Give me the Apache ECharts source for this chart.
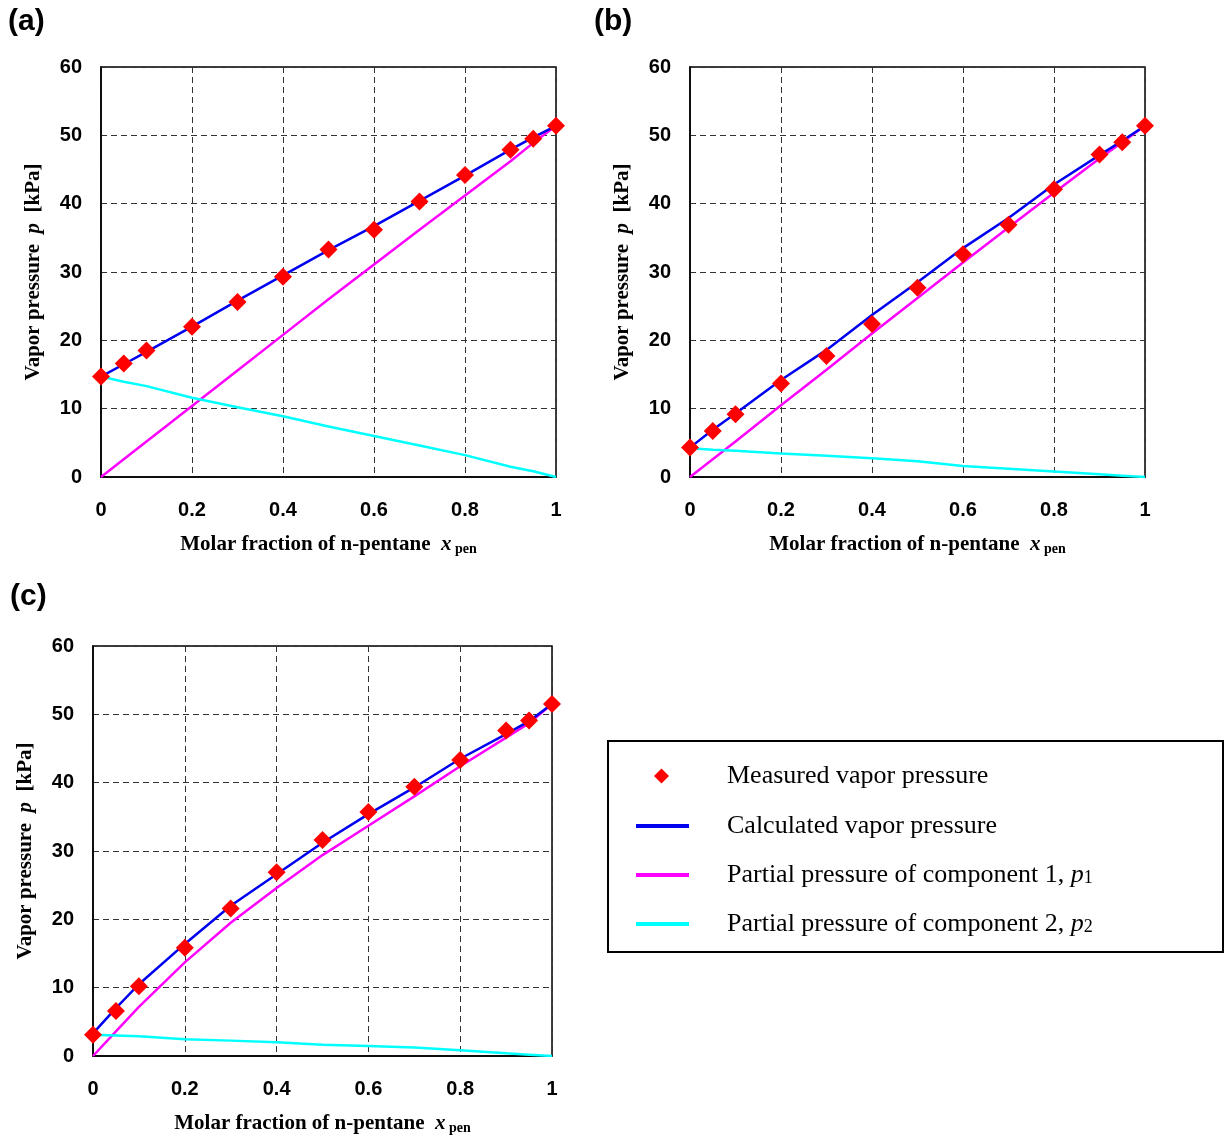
<!DOCTYPE html>
<html>
<head>
<meta charset="utf-8">
<script src="https://cdn.jsdelivr.net/npm/echarts@6/dist/echarts.min.js"></script>
<style>
html,body{margin:0;padding:0;background:#fff;}
#chart{width:1226px;height:1139px;}
</style>
</head>
<body>
<div id="chart"></div>
<script>
// Molar fraction of n-pentane (shared x values)
const xValues = [0, 0.05, 0.1, 0.2, 0.3, 0.4, 0.5, 0.6, 0.7, 0.8, 0.9, 0.95, 1];
const xTicks = [0, 0.2, 0.4, 0.6, 0.8, 1];
const yTicks = [0, 10, 20, 30, 40, 50, 60];

// Panel (a)
const measuredA = [14.7, 16.6, 18.5, 22.0, 25.6, 29.3, 33.3, 36.2, 40.3, 44.2, 47.9, 49.5, 51.4];
const calcA     = [14.7, 16.5, 18.3, 22.0, 25.8, 29.5, 33.2, 36.7, 40.4, 44.1, 47.9, 49.7, 51.4];
const p1A       = [0, 2.6, 5.2, 10.4, 15.6, 20.8, 26.0, 31.1, 36.2, 41.2, 46.2, 48.9, 51.4];
const p2A       = [14.7, 13.95, 13.3, 11.6, 10.2, 8.9, 7.4, 6.0, 4.6, 3.2, 1.5, 0.85, 0];

// Panel (b)
const measuredB = [4.3, 6.75, 9.2, 13.7, 17.7, 22.4, 27.7, 32.6, 36.9, 42.1, 47.2, 49.0, 51.4];
const calcB     = [4.3, 6.9, 9.3, 14.2, 18.6, 23.7, 28.5, 33.5, 37.9, 42.8, 47.1, 49.2, 51.4];
const p1B       = [0, 2.6, 5.2, 10.5, 15.7, 21.0, 26.2, 31.4, 36.5, 41.6, 46.6, 49.0, 51.4];
const p2B       = [4.2, 4.0, 3.85, 3.45, 3.1, 2.75, 2.3, 1.6, 1.2, 0.8, 0.4, 0.2, 0];

// Panel (c)
const measuredC = [3.1, 6.6, 10.2, 15.85, 21.6, 26.9, 31.6, 35.7, 39.4, 43.3, 47.65, 49.1, 51.5];
const calcC     = [3.3, 7.0, 10.5, 16.4, 22.0, 26.6, 31.2, 35.4, 39.3, 43.5, 47.1, 49.0, 51.5];
const p1C       = [0, 3.6, 7.2, 13.7, 19.5, 24.6, 29.4, 33.7, 38.0, 42.4, 46.6, 48.7, 51.5];
const p2C       = [3.1, 3.0, 2.9, 2.45, 2.25, 2.0, 1.65, 1.45, 1.25, 0.85, 0.4, 0.2, 0];

const panelLabels = ['(a)', '(b)', '(c)'];
const seriesNames = ['Measured vapor pressure', 'Calculated vapor pressure',
  'Partial pressure of component 1, p1', 'Partial pressure of component 2, p2'];

const panels = [
  {measured: measuredA, calc: calcA, p1: p1A, p2: p2A},
  {measured: measuredB, calc: calcB, p1: p1B, p2: p2B},
  {measured: measuredC, calc: calcC, p1: p1C, p2: p2C}
];
const grids = [
  {left: 101, top: 67, width: 455, height: 410},
  {left: 690, top: 67, width: 455, height: 410},
  {left: 93, top: 646, width: 459, height: 410}
];
const labelPos = [[8, 7], [594, 7], [10, 582]];

const pairs = arr => arr.map((v, i) => [xValues[i], v]);
const colors = {measured: '#FF0000', calc: '#0000F0', p1: '#FF00FF', p2: '#00FFFF'};

const tickFont = {fontFamily: 'Liberation Sans', fontWeight: 'bold', fontSize: 20, color: '#000'};
const titleRich = {
  i: {fontFamily: 'Liberation Serif', fontStyle: 'italic', fontWeight: 'bold', fontSize: 21, color: '#000'},
  s: {fontFamily: 'Liberation Serif', fontWeight: 'bold', fontSize: 14, color: '#000', padding: [8, 0, 0, 0]}
};

const option = {
  animation: false,
  backgroundColor: '#fff',
  grid: grids.map(g => Object.assign({show: true, borderColor: '#000', borderWidth: 1.5, backgroundColor: 'transparent'}, g)),
  xAxis: grids.map((g, k) => ({
    type: 'value', gridIndex: k, min: 0, max: 1, interval: 0.2,
    axisLine: {show: true, lineStyle: {color: '#000', width: 1.5}},
    axisTick: {show: false},
    axisLabel: Object.assign({margin: 23}, tickFont),
    splitLine: {show: true, lineStyle: {color: '#333', width: 1, type: [6, 4]}},
    name: 'Molar fraction of n-pentane  {i|x}{s| pen}',
    nameLocation: 'middle', nameGap: 57,
    nameTextStyle: {fontFamily: 'Liberation Serif', fontWeight: 'bold', fontSize: 21, color: '#000', rich: titleRich}
  })),
  yAxis: grids.map((g, k) => ({
    type: 'value', gridIndex: k, min: 0, max: 60, interval: 10,
    axisLine: {show: true, lineStyle: {color: '#000', width: 1.5}},
    axisTick: {show: false},
    axisLabel: Object.assign({margin: 19}, tickFont),
    splitLine: {show: true, lineStyle: {color: '#333', width: 1, type: [6, 4]}},
    name: 'Vapor pressure  {i|p}  [kPa]',
    nameLocation: 'middle', nameGap: 57,
    nameTextStyle: {fontFamily: 'Liberation Serif', fontWeight: 'bold', fontSize: 21, color: '#000', rich: titleRich}
  })),
  legend: [
    {
      orient: 'vertical', left: 649, top: 756,
      data: [{name: seriesNames[0], icon: 'diamond'}],
      itemWidth: 15, itemHeight: 15,
      textStyle: {fontFamily: 'Liberation Serif', fontSize: 26, color: '#000', padding: [0, 0, 0, 53], lineHeight: 30}
    },
    {
      orient: 'vertical', left: 631, top: 806, itemGap: 19,
      data: seriesNames.slice(1).map(n => ({name: n, icon: 'rect'})),
      itemWidth: 53, itemHeight: 4,
      formatter: function (name) {
        if (name.endsWith('p1')) return 'Partial pressure of component 1, {i|p}{s|1}';
        if (name.endsWith('p2')) return 'Partial pressure of component 2, {i|p}{s|2}';
        return name;
      },
      textStyle: {
        fontFamily: 'Liberation Serif', fontSize: 26, color: '#000', padding: [0, 0, 0, 33], lineHeight: 30,
        rich: {
          i: {fontFamily: 'Liberation Serif', fontStyle: 'italic', fontSize: 26, color: '#000', lineHeight: 30},
          s: {fontFamily: 'Liberation Serif', fontSize: 18, color: '#000', padding: [7, 0, 0, 0], lineHeight: 30}
        }
      }
    }
  ],
  graphic: [
    {type: 'rect', shape: {x: 608, y: 741, width: 615, height: 211},
     style: {fill: 'none', stroke: '#000', lineWidth: 2}, z: 10}
  ].concat(panelLabels.map((t, k) => ({
    type: 'text', left: labelPos[k][0], top: labelPos[k][1],
    style: {text: t, font: 'bold 30px "Liberation Sans"', fill: '#000'}
  }))),
  series: []
};

panels.forEach((p, k) => {
  option.series.push(
    {name: seriesNames[2], type: 'line', xAxisIndex: k, yAxisIndex: k, data: pairs(p.p1),
     showSymbol: false, lineStyle: {color: colors.p1, width: 2.5}, itemStyle: {color: colors.p1}, z: 2},
    {name: seriesNames[3], type: 'line', xAxisIndex: k, yAxisIndex: k, data: pairs(p.p2),
     showSymbol: false, lineStyle: {color: colors.p2, width: 2.5}, itemStyle: {color: colors.p2}, z: 2},
    {name: seriesNames[1], type: 'line', xAxisIndex: k, yAxisIndex: k, data: pairs(p.calc),
     showSymbol: false, lineStyle: {color: colors.calc, width: 2.5}, itemStyle: {color: colors.calc}, z: 3},
    {name: seriesNames[0], type: 'scatter', xAxisIndex: k, yAxisIndex: k, data: pairs(p.measured),
     symbol: 'diamond', symbolSize: [18, 18], itemStyle: {color: colors.measured, opacity: 1}, z: 4}
  );
});

const chart = echarts.init(document.getElementById('chart'), null, {renderer: 'canvas'});
chart.setOption(option);
</script>
</body>
</html>
